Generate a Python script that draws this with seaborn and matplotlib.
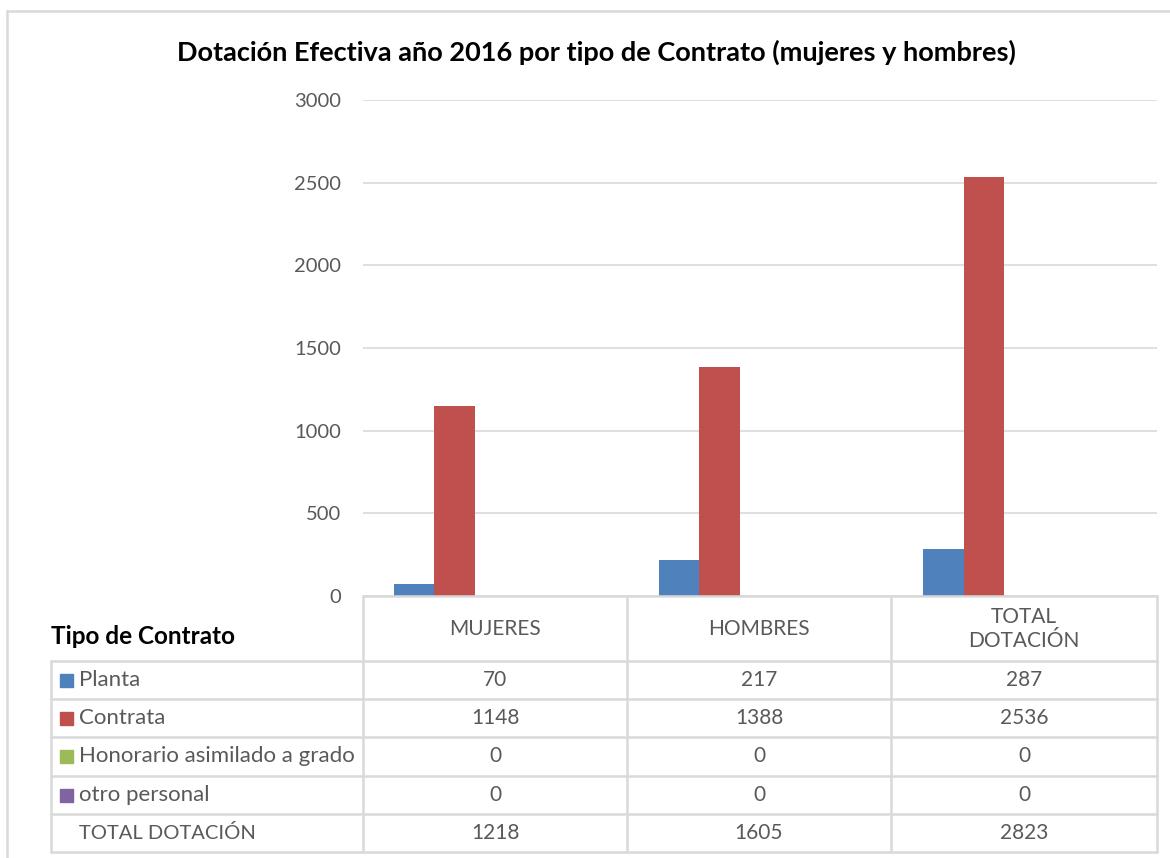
import pandas as pd
import matplotlib.pyplot as plt
import seaborn as sns
from matplotlib.lines import Line2D
from matplotlib.patches import Rectangle

# data
grupos = ["MUJERES", "HOMBRES", "TOTAL DOTACIÓN"]
grupo_labels = ["MUJERES", "HOMBRES", "TOTAL\nDOTACIÓN"]
tipos = ["Planta", "Contrata", "Honorario asimilado a grado", "otro personal", "TOTAL DOTACIÓN"]
planta = [70, 217, 287]
contrata = [1148, 1388, 2536]
honorario = [0, 0, 0]
otro = [0, 0, 0]
total = [1218, 1605, 2823]
colores = ["#4F81BD", "#C0504D", "#9BBB59", "#8064A2", "#FFFFFF"]
yticks = [0, 500, 1000, 1500, 2000, 2500, 3000]

series = [planta, contrata, honorario, otro, total]
rows = []
for tipo, vals in zip(tipos, series):
    for g, v in zip(grupos, vals):
        rows.append({"grupo": g, "tipo": tipo, "valor": v})
df = pd.DataFrame(rows)

sns.set_style("white")
plt.rcParams['font.family'] = ['Lato', 'DejaVu Sans']
txt = "#595959"
grid = "#D9D9D9"

W, H = 1170, 858
fig = plt.figure(figsize=(W / 100, H / 100), dpi=100)


def fx(x):
    return x / W


def fy(y):
    return 1 - y / H


left, right, top, bottom = 363, 1157, 100, 596
ax = fig.add_axes([fx(left), fy(bottom), fx(right - left), fy(top) - fy(bottom)])
sns.barplot(data=df, x="grupo", y="valor", hue="tipo", order=grupos, hue_order=tipos,
            palette=colores, width=0.767, saturation=1, legend=False, ax=ax)
# the last series has no fill in the original
for bar in ax.containers[-1]:
    bar.set_visible(False)
for c in ax.containers:
    for bar in c:
        bar.set_edgecolor("none")

ax.set_xlim(-0.5, 2.5)
ax.set_ylim(0, 3000)
ax.set_yticks(yticks)
ax.set_yticklabels([str(t) for t in yticks], fontsize=14.5, color=txt)
ax.set_xticks([])
ax.set_xlabel("")
ax.set_ylabel("")
ax.tick_params(axis="y", length=0, pad=16)
ax.yaxis.grid(True, color=grid, linewidth=1.2)
ax.set_axisbelow(True)
for s in ax.spines.values():
    s.set_visible(False)

fig.text(fx(596), fy(52), "Dotación Efectiva año 2016 por tipo de Contrato (mujeres y hombres)",
         ha="center", va="center", fontsize=19.5, fontweight="bold", color="black")

# outer chart border
fig.add_artist(Line2D([fx(7), fx(7)], [fy(11), fy(900)], color=grid, lw=1.8))
fig.add_artist(Line2D([fx(7), fx(1200)], [fy(11), fy(11)], color=grid, lw=1.8))

# data table
cols = [51, 363, 627, 891, 1157]
row_y = [661, 699, 737, 776, 814, 852]
lw = 1.8
fig.add_artist(Line2D([fx(363), fx(1157)], [fy(596), fy(596)], color=grid, lw=lw))
for y in row_y:
    fig.add_artist(Line2D([fx(51), fx(1157)], [fy(y), fy(y)], color=grid, lw=lw))
fig.add_artist(Line2D([fx(51), fx(51)], [fy(661), fy(852)], color=grid, lw=lw))
for x in cols[1:]:
    fig.add_artist(Line2D([fx(x), fx(x)], [fy(596), fy(852)], color=grid, lw=lw))

fig.text(fx(51), fy(637), "Tipo de Contrato", ha="left", va="center",
         fontsize=17.5, fontweight="bold", color="black")
for i, lab in enumerate(grupo_labels):
    cx = (cols[i + 1] + cols[i + 2]) / 2
    fig.text(fx(cx), fy(629), lab, ha="center", va="center", fontsize=15,
             color=txt, linespacing=1.3)

for r, (tipo, vals) in enumerate(zip(tipos, series)):
    cy = (row_y[r] + row_y[r + 1]) / 2
    if r < 4:
        fig.add_artist(Rectangle((fx(60), fy(cy + 6.5)), fx(13), fy(0) - fy(13),
                                 color=colores[r], transform=fig.transFigure))
        size = 16
    else:
        size = 14.5
    fig.text(fx(79), fy(cy), tipo, ha="left", va="center", fontsize=size, color=txt)
    for i, v in enumerate(vals):
        cx = (cols[i + 1] + cols[i + 2]) / 2
        fig.text(fx(cx), fy(cy), str(v), ha="center", va="center", fontsize=15, color=txt)

fig.savefig("out.png", dpi=100)
